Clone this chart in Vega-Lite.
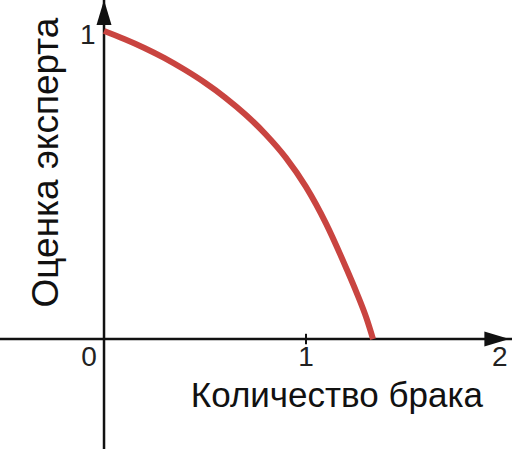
{
  "$schema": "https://vega.github.io/schema/vega-lite/v6.json",
  "width": 512,
  "height": 449,
  "autosize": {"type": "none"},
  "padding": 0,
  "background": "white",
  "config": {"view": {"stroke": null}},
  "layer": [
    {
      "data": {"values": [{}]},
      "mark": {"type": "rule", "color": "#111", "strokeWidth": 2.5},
      "encoding": {
        "y": {"datum": 0, "type": "quantitative", "scale": {"domain": [-0.357, 1.1006], "nice": false, "zero": false}, "axis": null}
      }
    },
    {
      "data": {"values": [{}]},
      "mark": {"type": "rule", "color": "#111", "strokeWidth": 2.5},
      "encoding": {
        "x": {"datum": 0, "type": "quantitative", "scale": {"domain": [-0.515, 2.02], "nice": false, "zero": false}, "axis": null}
      }
    },
    {
      "data": {"values": [{}]},
      "mark": {"type": "rule", "color": "#111", "strokeWidth": 2},
      "encoding": {
        "x": {"datum": 1, "type": "quantitative"},
        "y": {"datum": -0.017, "type": "quantitative"},
        "y2": {"datum": 0.017}
      }
    },
    {
      "data": {"values": [{}]},
      "mark": {"type": "point", "filled": true, "color": "#111", "opacity": 1, "size": 625, "shape": "M1,0L-1,-0.6L-1,0.6Z"},
      "encoding": {
        "x": {"datum": 1.945, "type": "quantitative"},
        "y": {"datum": 0, "type": "quantitative"}
      }
    },
    {
      "data": {"values": [{}]},
      "mark": {"type": "point", "filled": true, "color": "#111", "opacity": 1, "size": 625, "shape": "M0,-1L0.6,1L-0.6,1Z"},
      "encoding": {
        "x": {"datum": 0, "type": "quantitative"},
        "y": {"datum": 1.06, "type": "quantitative"}
      }
    },
    {
      "data": {"values": [
        {"x": 0, "y": 1},
        {"x": 0.1, "y": 0.974},
        {"x": 0.2, "y": 0.945},
        {"x": 0.3, "y": 0.912},
        {"x": 0.4, "y": 0.874},
        {"x": 0.5, "y": 0.832},
        {"x": 0.6, "y": 0.784},
        {"x": 0.7, "y": 0.729},
        {"x": 0.8, "y": 0.665},
        {"x": 0.9, "y": 0.589},
        {"x": 1.0, "y": 0.494},
        {"x": 1.1, "y": 0.374},
        {"x": 1.2, "y": 0.229},
        {"x": 1.25, "y": 0.1515},
        {"x": 1.3, "y": 0.0665},
        {"x": 1.332, "y": 0}
      ]},
      "mark": {"type": "line", "color": "#c94440", "strokeWidth": 6, "interpolate": "monotone", "strokeCap": "butt"},
      "encoding": {
        "x": {"field": "x", "type": "quantitative"},
        "y": {"field": "y", "type": "quantitative"}
      }
    },
    {
      "data": {"values": [{}]},
      "mark": {"type": "text", "font": "Liberation Sans", "fontSize": 28, "color": "#222", "align": "center", "baseline": "middle"},
      "encoding": {
        "x": {"datum": -0.074, "type": "quantitative"},
        "y": {"datum": -0.062, "type": "quantitative"},
        "text": {"value": "0"}
      }
    },
    {
      "data": {"values": [{}]},
      "mark": {"type": "text", "font": "Liberation Sans", "fontSize": 28, "color": "#222", "align": "center", "baseline": "middle"},
      "encoding": {
        "x": {"datum": 1, "type": "quantitative"},
        "y": {"datum": -0.062, "type": "quantitative"},
        "text": {"value": "1"}
      }
    },
    {
      "data": {"values": [{}]},
      "mark": {"type": "text", "font": "Liberation Sans", "fontSize": 28, "color": "#222", "align": "center", "baseline": "middle"},
      "encoding": {
        "x": {"datum": 1.96, "type": "quantitative"},
        "y": {"datum": -0.062, "type": "quantitative"},
        "text": {"value": "2"}
      }
    },
    {
      "data": {"values": [{}]},
      "mark": {"type": "text", "font": "Liberation Sans", "fontSize": 28, "color": "#222", "align": "center", "baseline": "middle"},
      "encoding": {
        "x": {"datum": -0.08, "type": "quantitative"},
        "y": {"datum": 0.984, "type": "quantitative"},
        "text": {"value": "1"}
      }
    },
    {
      "data": {"values": [{}]},
      "mark": {"type": "text", "font": "Liberation Sans", "fontSize": 35, "color": "#111", "align": "center", "baseline": "alphabetic"},
      "encoding": {
        "x": {"datum": 1.153, "type": "quantitative"},
        "y": {"datum": -0.221, "type": "quantitative"},
        "text": {"value": "Количество брака"}
      }
    },
    {
      "data": {"values": [{}]},
      "mark": {"type": "text", "font": "Liberation Sans", "fontSize": 37, "color": "#111", "align": "center", "baseline": "alphabetic", "angle": 270},
      "encoding": {
        "x": {"datum": -0.228, "type": "quantitative"},
        "y": {"datum": 0.573, "type": "quantitative"},
        "text": {"value": "Оценка эксперта"}
      }
    }
  ]
}
